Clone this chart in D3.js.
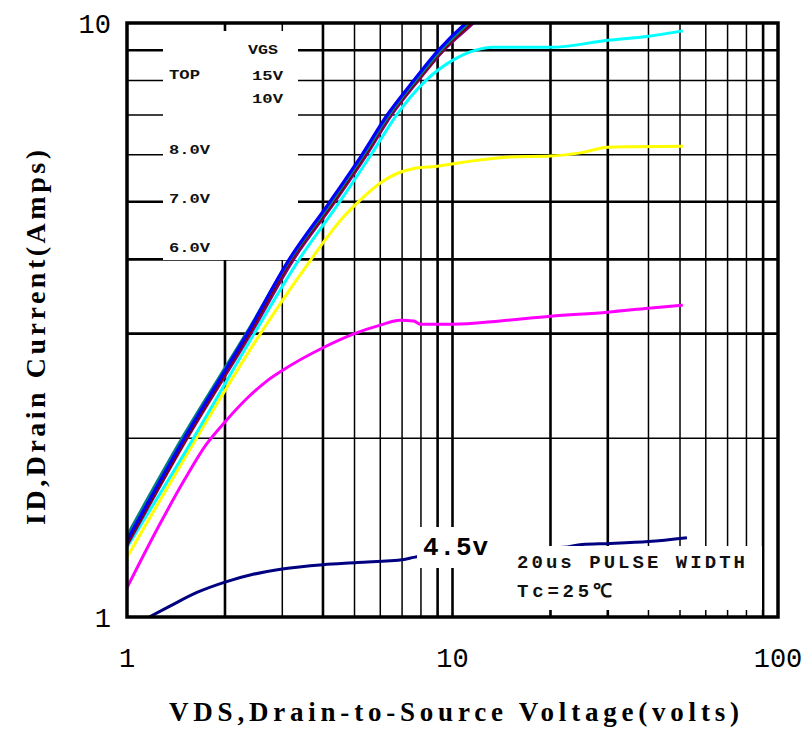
<!DOCTYPE html>
<html><head><meta charset="utf-8">
<script src="https://cdn.jsdelivr.net/npm/d3@7"></script>
<style>body{margin:0;background:#fff}svg{display:block}</style>
</head><body><svg id="c" width="803" height="729"></svg>
<script>
// ---- data ----
const xTickLabels = [1, 10, 100];
const yTickLabels = [1, 10];
const xGridValues = [2,3,4,5,6,7,8,9,10,20,30,40,50,60,70,80,90];
const yGridValues = [2,3,4,5,6,7,8,9];
const xGridBold = [2,4,9,10,20,30,90];
const yGridBold = [3,4,5,9];

const vgs15 = [[1,1.345],[1.5,2.0],[2.34,3.0],[3.15,4.0],[4.2,5.0],[5.27,6.0],[6.3,7.0],[7.6,8.0],[9.06,9.0],[11,10.0],[12,10.4]];
const vgsTeal = [[1,1.37],[1.5,2.03],[2.34,3.02],[3.17,4.0],[4.25,5.0],[5.33,6.0],[6.38,7.0],[7.7,8.0],[9.2,9.0],[11.2,10.0],[12,10.35]];
const vgsRed = [[1,1.33],[1.52,2.0],[2.37,3.0],[3.2,4.0],[4.3,5.0],[5.38,6.0],[6.42,7.0],[7.78,8.0],[9.3,9.0],[11.4,10.0],[12.3,10.4]];
const vgs10 = [[1,1.32],[1.53,2.0],[2.4,3.0],[3.25,4.0],[4.35,5.0],[5.45,6.0],[6.5,7.0],[7.85,8.0],[9.4,9.0],[11.6,10.0],[12.5,10.4]];
const vgs8 = [[1,1.31],[1.6,2.0],[2.46,3.0],[3.38,4.0],[4.5,5.0],[5.62,6.0],[6.73,7.0],[8.28,8.0],[10,8.65],[11.8,9.0],[13.3,9.1],[20,9.1],[30,9.35],[40,9.5],[51,9.7]];
const vgs7 = [[1,1.26],[1.6,1.96],[2.5,2.93],[3.1,3.5],[3.68,4.0],[4.2,4.42],[4.6,4.7],[5.1,4.98],[6,5.38],[6.75,5.58],[7.5,5.68],[9,5.74],[10.8,5.83],[15,5.95],[20,5.97],[25,6.05],[30,6.18],[51,6.2]];
const vgs6 = [[1,1.12],[1.25,1.42],[1.5,1.7],[1.75,1.95],[2,2.13],[2.33,2.33],[2.7,2.5],[3,2.6],[4,2.84],[5,3.0],[6,3.1],[6.9,3.16],[7.6,3.15],[8,3.11],[10,3.11],[14,3.15],[20,3.21],[30,3.26],[40,3.31],[51,3.35]];
const vgs45 = [[1.17,1.0],[1.35,1.042],[1.64,1.1],[2,1.145],[2.44,1.18],[3,1.205],[4,1.225],[5.1,1.235],[7.1,1.25],[7.6,1.26],[12,1.29],[22,1.31],[25,1.325],[30.5,1.33],[40,1.34],[52.5,1.36]];

const seriesList = [
  {data: vgs45, color: "#000080", w: 3},
  {data: vgs6, color: "#ff00ff", w: 3},
  {data: vgs7, color: "#ffff00", w: 3},
  {data: vgs8, color: "#00ffff", w: 3},
  {data: vgs10, color: "#800080", w: 3},
  {data: vgsRed, color: "#800000", w: 3},
  {data: vgsTeal, color: "#008080", w: 3},
  {data: vgs15, color: "#0000ff", w: 3.2}
];

const legendItems = [
  {t: "VGS", x: 248, y: 54, len: 30},
  {t: "TOP", x: 169, y: 79, len: 31},
  {t: "15V", x: 252, y: 80, len: 31},
  {t: "10V", x: 252, y: 103, len: 31},
  {t: "8.0V", x: 169, y: 154, len: 41},
  {t: "7.0V", x: 169, y: 203, len: 41},
  {t: "6.0V", x: 169, y: 252, len: 41}
];

// ---- chart ----
const svg = d3.select("#c");
const X = d3.scaleLog().domain([1, 100]).range([127, 778]);
const Y = d3.scaleLog().domain([1, 10]).range([617, 23]);

svg.append("defs").append("clipPath").attr("id", "plot")
  .append("rect").attr("x", X(1)).attr("y", Y(10))
  .attr("width", X(100) - X(1)).attr("height", Y(1) - Y(10));

const g = svg.append("g");

// grid
g.selectAll(".vg").data(xGridValues).enter().append("line")
  .attr("x1", d => X(d)).attr("x2", d => X(d))
  .attr("y1", Y(10)).attr("y2", Y(1))
  .attr("stroke", "#000").attr("stroke-width", d => xGridBold.includes(d) ? 2.6 : 1.5);
g.selectAll(".hg").data(yGridValues).enter().append("line")
  .attr("y1", d => Y(d)).attr("y2", d => Y(d))
  .attr("x1", X(1)).attr("x2", X(100))
  .attr("stroke", "#000").attr("stroke-width", d => yGridBold.includes(d) ? 2.6 : 1.5);

// legend mask
g.append("rect").attr("x", 163).attr("y", 31).attr("width", 135).attr("height", 229).attr("fill", "#fff");

// curves
const line = d3.line().x(d => X(d[0])).y(d => Y(d[1])).curve(d3.curveMonotoneX);
const cg = svg.append("g").attr("clip-path", "url(#plot)");
seriesList.forEach(s => {
  cg.append("path").attr("d", line(s.data)).attr("fill", "none")
    .attr("stroke", s.color).attr("stroke-width", s.w).attr("stroke-linejoin", "round");
});

// annotation masks
svg.append("rect").attr("x", 417).attr("y", 527).attr("width", 83).attr("height", 41).attr("fill", "#fff");
svg.append("rect").attr("x", 498).attr("y", 546).attr("width", 264).attr("height", 64).attr("fill", "#fff");

// frame
svg.append("rect").attr("x", X(1)).attr("y", Y(10))
  .attr("width", X(100) - X(1)).attr("height", Y(1) - Y(10))
  .attr("fill", "none").attr("stroke", "#000").attr("stroke-width", 3.5);

// legend text
svg.selectAll(".lg").data(legendItems).enter().append("text")
  .attr("x", d => d.x).attr("y", d => d.y)
  .attr("textLength", d => d.len).attr("lengthAdjust", "spacingAndGlyphs")
  .attr("font-family", "Liberation Mono, monospace").attr("font-weight", "bold")
  .attr("font-size", 13).attr("fill", "#111").text(d => d.t);

// annotations
svg.append("text").attr("x", 423).attr("y", 555)
  .attr("font-family", "Liberation Mono, monospace").attr("font-weight", "bold")
  .attr("font-size", 26).attr("textLength", 65).attr("lengthAdjust", "spacing")
  .attr("fill", "#000").text("4.5v");
svg.append("text").attr("x", 517).attr("y", 568)
  .attr("font-family", "Liberation Mono, monospace").attr("font-weight", "bold")
  .attr("font-size", 19).attr("textLength", 228).attr("lengthAdjust", "spacing")
  .attr("fill", "#111").text("20us PULSE WIDTH");
svg.append("text").attr("x", 517).attr("y", 597)
  .attr("font-family", "Liberation Mono, monospace").attr("font-weight", "bold")
  .attr("font-size", 19).attr("textLength", 95).attr("lengthAdjust", "spacing")
  .attr("fill", "#111").text("Tc=25℃");

// tick labels
svg.selectAll(".xt").data(xTickLabels).enter().append("text")
  .attr("x", d => X(d)).attr("y", 667).attr("text-anchor", "middle")
  .attr("font-family", "Liberation Mono, monospace").attr("font-size", 27)
  .attr("fill", "#000").text(d => d);
svg.selectAll(".yt").data(yTickLabels).enter().append("text")
  .attr("x", 111).attr("y", d => Y(d) + 10).attr("text-anchor", "end")
  .attr("font-family", "Liberation Mono, monospace").attr("font-size", 27)
  .attr("fill", "#000").text(d => d);

// axis titles
svg.append("text").attr("x", 169).attr("y", 721)
  .attr("font-family", "Liberation Serif, serif").attr("font-weight", "bold")
  .attr("font-size", 27).attr("textLength", 570).attr("lengthAdjust", "spacing")
  .attr("fill", "#000").text("VDS,Drain-to-Source Voltage(volts)");
svg.append("text").attr("transform", "translate(45,525) rotate(-90)")
  .attr("font-family", "Liberation Serif, serif").attr("font-weight", "bold")
  .attr("font-size", 28).attr("textLength", 375).attr("lengthAdjust", "spacing")
  .attr("fill", "#000").text("ID,Drain Current(Amps)");
</script>
</body></html>
